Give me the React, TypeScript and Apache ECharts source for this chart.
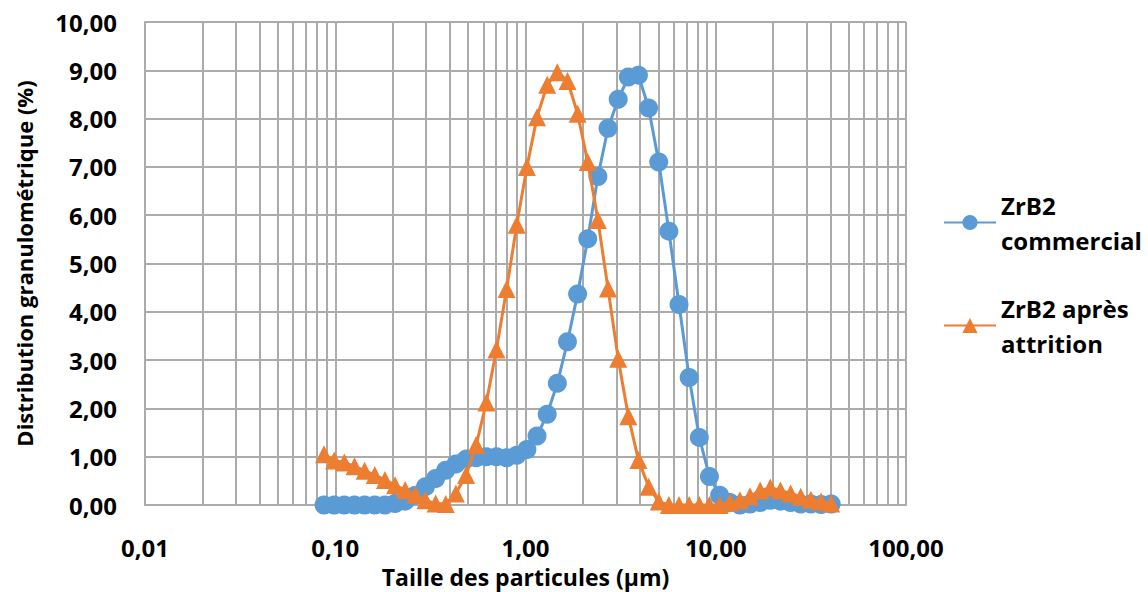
import React, { useEffect, useRef } from "react";
import * as echarts from "echarts";

// Particle sizes (µm), shared by both series
const sizes = [
  0.0873, 0.0987, 0.1116, 0.1262, 0.1427, 0.1613, 0.1824, 0.2062, 0.2331, 0.2636,
  0.298, 0.3369, 0.3809, 0.4307, 0.4869, 0.5505, 0.6224, 0.7037, 0.7956, 0.8995,
  1.017, 1.15, 1.3, 1.47, 1.662, 1.879, 2.124, 2.402, 2.715, 3.07,
  3.471, 3.924, 4.437, 5.016, 5.671, 6.412, 7.249, 8.196, 9.267, 10.48,
  11.85, 13.39, 15.14, 17.12, 19.36, 21.88, 24.74, 27.97, 31.63, 35.76,
  40.43,
];

// ZrB2 commercial (%)
const commercial = [
  0, 0, 0, 0, 0, 0, 0, 0.03, 0.08, 0.2,
  0.38, 0.55, 0.72, 0.85, 0.95, 0.98, 1.0, 1.0, 0.98, 1.03,
  1.15, 1.43, 1.88, 2.52, 3.38, 4.37, 5.51, 6.8, 7.8, 8.4,
  8.86, 8.9, 8.22, 7.1, 5.67, 4.15, 2.64, 1.4, 0.59, 0.2,
  0.05, 0, 0.02, 0.05, 0.1, 0.08, 0.05, 0.02, 0.02, 0.01,
  0.02,
];

// ZrB2 après attrition (%)
const attrition = [
  1.05, 0.92, 0.88, 0.8, 0.71, 0.62, 0.52, 0.41, 0.31, 0.21,
  0.1, 0.03, 0.02, 0.24, 0.62, 1.24, 2.12, 3.22, 4.47, 5.8,
  7.0, 8.03, 8.7, 8.96, 8.78, 8.1, 7.1, 5.9, 4.48, 3.03,
  1.84, 0.93, 0.38, 0.07, 0, 0, 0, 0, 0, 0,
  0.05, 0.1, 0.18, 0.3, 0.36, 0.3, 0.24, 0.17, 0.11, 0.07,
  0.03,
];

const seriesNames = ["ZrB2\ncommercial", "ZrB2 après\nattrition"];
const colors = ["#5B9BD5", "#ED7D31"];

const FONT = "'Open Sans', 'Liberation Sans', sans-serif";
const GRID = "#ABABAB";

const fmt = (v: number) => v.toFixed(2).replace(".", ",");

export default function App() {
  const ref = useRef<HTMLDivElement>(null);

  useEffect(() => {
    if (!ref.current) return;
    const chart = echarts.init(ref.current, undefined, { renderer: "svg" });
    chart.setOption({
      animation: false,
      backgroundColor: "#ffffff",
      grid: { left: 145, right: 242, top: 22, bottom: 87, outerBoundsMode: "none" },
      xAxis: {
        type: "log",
        logBase: 10,
        min: 0.01,
        max: 100,
        name: "Taille des particules (µm)",
        nameLocation: "middle",
        nameGap: 60,
        nameTextStyle: { fontFamily: FONT, fontWeight: "bold", fontSize: 23, color: "#000" },
        axisLine: { show: true, lineStyle: { color: GRID, width: 2 } },
        axisTick: { show: false },
        axisLabel: {
          formatter: fmt,
          margin: 30,
          fontFamily: FONT,
          fontWeight: "bold",
          fontSize: 24,
          color: "#000",
        },
        splitLine: { show: true, lineStyle: { color: GRID, width: 2 } },
        minorTick: { show: false, splitNumber: 9 },
        minorSplitLine: { show: true, lineStyle: { color: GRID, width: 2 } },
      },
      yAxis: {
        type: "value",
        min: 0,
        max: 10,
        interval: 1,
        name: "Distribution granulométrique (%)",
        nameLocation: "middle",
        nameGap: 110,
        nameTextStyle: { fontFamily: FONT, fontWeight: "bold", fontSize: 22, color: "#000" },
        axisLine: { show: true, lineStyle: { color: GRID, width: 2 } },
        axisTick: { show: false },
        axisLabel: {
          formatter: fmt,
          margin: 28,
          fontFamily: FONT,
          fontWeight: "bold",
          fontSize: 24,
          color: "#000",
        },
        splitLine: { show: true, lineStyle: { color: GRID, width: 2 } },
      },
      legend: {
        orient: "vertical",
        left: 943,
        top: 170,
        padding: 0,
        itemWidth: 52,
        itemHeight: 19,
        itemGap: -2,
        data: seriesNames,
        textStyle: {
          fontFamily: FONT,
          fontWeight: "bold",
          fontSize: 24,
          color: "#000",
          lineHeight: 35,
          padding: [35, 0, 0, 0],
        },
      },
      series: [
        {
          name: seriesNames[0],
          type: "line",
          data: sizes.map((x, i) => [x, commercial[i]]),
          symbol: "circle",
          symbolSize: 19,
          color: colors[0],
          lineStyle: { width: 3, color: colors[0] },
          itemStyle: { color: colors[0] },
          z: 3,
        },
        {
          name: seriesNames[1],
          type: "line",
          data: sizes.map((x, i) => [x, attrition[i]]),
          symbol: "triangle",
          symbolSize: 18,
          color: colors[1],
          lineStyle: { width: 3, color: colors[1] },
          itemStyle: { color: colors[1] },
          z: 4,
        },
      ],
    });
    return () => chart.dispose();
  }, []);

  return (
    <div
      ref={ref}
      style={{ position: "fixed", left: 0, top: 0, width: 1148, height: 592, background: "#fff" }}
    />
  );
}
